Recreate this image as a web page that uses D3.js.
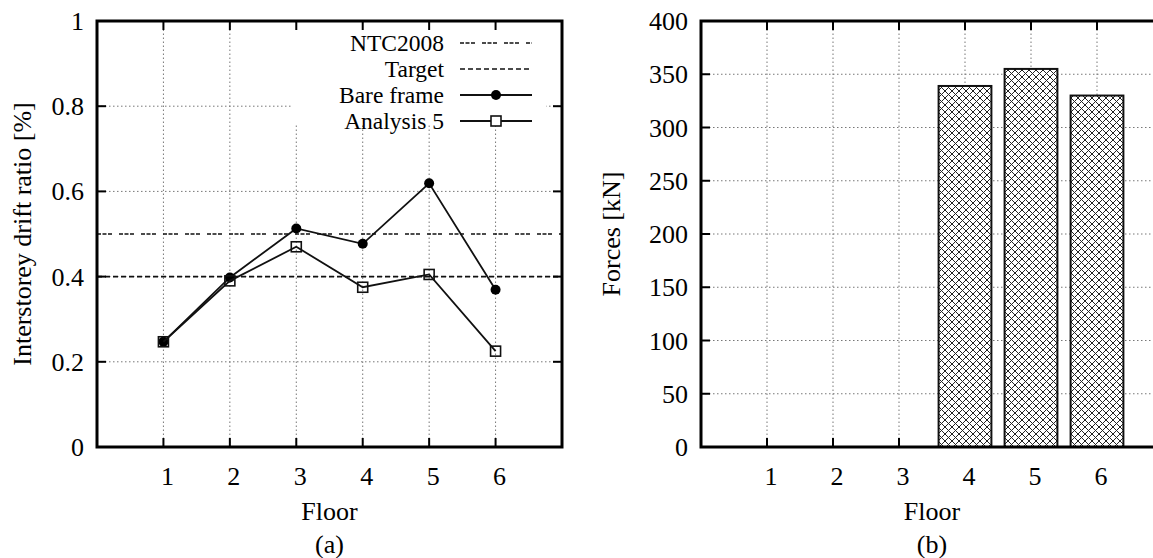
<!DOCTYPE html>
<html>
<head>
<meta charset="utf-8">
<script src="https://cdn.jsdelivr.net/npm/d3@7"></script>
<style>
  body { margin: 0; background: #fff; }
  svg { display: block; font-family: "Liberation Serif", "DejaVu Serif", serif; }
  text { fill: #000; }
</style>
</head>
<body>
<svg width="1153" height="558"></svg>
<script>
// data ........................................................................

var floors = [1, 2, 3, 4, 5, 6],
	bareFrame = [0.247, 0.398, 0.513, 0.477, 0.619, 0.369],
	analysis5 = [0.247, 0.390, 0.470, 0.375, 0.405, 0.225],
	ntc2008 = 0.5,
	target = 0.4,
	forces = [0, 0, 0, 339, 355, 330],
	driftTicks = [0, 0.2, 0.4, 0.6, 0.8, 1],
	forceTicks = [0, 50, 100, 150, 200, 250, 300, 350, 400];

var svg = d3.select("svg"),
	fontSize = 26,
	legendFont = 23.5,
	ntcDash = "4,1.5,4,1.5,4,7",
	targetDash = "5,3",
	gridStyle = function(sel) {
		sel.attr("stroke", "#777").attr("stroke-width", 1)
			.attr("stroke-dasharray", "1.5,2.5").attr("fill", "none");
	};

// crosshatch pattern for the bars
var pat = svg.append("defs").append("pattern")
	.attr("id", "xhatch")
	.attr("patternUnits", "userSpaceOnUse")
	.attr("width", 7).attr("height", 7);
pat.append("rect").attr("width", 7).attr("height", 7).attr("fill", "#fff");
pat.append("path")
	.attr("d", "M0,0L7,7M0,7L7,0M-1,1L1,-1M6,8L8,6M-1,6L1,8M6,-1L8,1")
	.attr("stroke", "#222").attr("stroke-width", 1);

// common frame ................................................................

function frame(g, x, y, yTicks, yLabel, yLabelX, caption) {
	var left = x.range()[0], right = x.range()[1],
		bottom = y.range()[0], top = y.range()[1];

	// y tick labels
	g.selectAll(".ylab").data(yTicks).enter().append("text")
		.attr("x", left - 13).attr("y", function(d) { return y(d) + 9; })
		.attr("text-anchor", "end").attr("font-size", fontSize)
		.text(function(d) { return d; });

	// x tick labels
	g.selectAll(".xlab").data(floors).enter().append("text")
		.attr("x", function(d) { return x(d) + 4; }).attr("y", 485)
		.attr("text-anchor", "middle").attr("font-size", fontSize)
		.text(function(d) { return d; });

	g.append("text")
		.attr("x", (left + right) / 2).attr("y", 520)
		.attr("text-anchor", "middle").attr("font-size", fontSize)
		.text("Floor");

	g.append("text")
		.attr("x", (left + right) / 2).attr("y", 553)
		.attr("text-anchor", "middle").attr("font-size", fontSize)
		.text(caption);

	g.append("text")
		.attr("transform", "translate(" + yLabelX + "," + ((top + bottom) / 2) + ") rotate(-90)")
		.attr("text-anchor", "middle").attr("font-size", fontSize)
		.text(yLabel);
}

function ticks(g, x, y, yTicks) {
	var left = x.range()[0], right = x.range()[1],
		bottom = y.range()[0], top = y.range()[1], len = 9,
		t = g.append("g").attr("stroke", "#000").attr("stroke-width", 2);

	floors.forEach(function(d) {
		t.append("line").attr("x1", x(d)).attr("x2", x(d))
			.attr("y1", bottom).attr("y2", bottom - len);
		t.append("line").attr("x1", x(d)).attr("x2", x(d))
			.attr("y1", top).attr("y2", top + len);
	});
	yTicks.forEach(function(d) {
		t.append("line").attr("x1", left).attr("x2", left + len)
			.attr("y1", y(d)).attr("y2", y(d));
		t.append("line").attr("x1", right).attr("x2", right - len)
			.attr("y1", y(d)).attr("y2", y(d));
	});
}

function border(g, x, y) {
	var left = x.range()[0], right = x.range()[1],
		bottom = y.range()[0], top = y.range()[1];
	g.append("rect")
		.attr("x", left).attr("y", top)
		.attr("width", right - left).attr("height", bottom - top)
		.attr("fill", "none").attr("stroke", "#000").attr("stroke-width", 3);
}

// (a) interstorey drift ........................................................

var xa = d3.scaleLinear().domain([0, 7]).range([97, 562]),
	ya = d3.scaleLinear().domain([0, 1]).range([447, 21]),
	ga = svg.append("g");

frame(ga, xa, ya, driftTicks, "Interstorey drift ratio [%]", 31, "(a)");

// grid
ga.append("g").selectAll("line").data(driftTicks.slice(1, -1)).enter().append("line")
	.attr("x1", xa(0)).attr("x2", xa(7))
	.attr("y1", ya).attr("y2", ya)
	.call(gridStyle);
ga.append("g").selectAll("line").data(floors).enter().append("line")
	.attr("x1", xa).attr("x2", xa)
	.attr("y1", ya(0)).attr("y2", ya(1))
	.call(gridStyle);

// reference levels
ga.append("line")
	.attr("x1", xa(0)).attr("x2", xa(7))
	.attr("y1", ya(ntc2008)).attr("y2", ya(ntc2008))
	.attr("stroke", "#111").attr("stroke-width", 1.6)
	.attr("stroke-dasharray", ntcDash);
ga.append("line")
	.attr("x1", xa(0)).attr("x2", xa(7))
	.attr("y1", ya(target)).attr("y2", ya(target))
	.attr("stroke", "#111").attr("stroke-width", 1.6)
	.attr("stroke-dasharray", targetDash);

// legend box hides the grid behind it
ga.append("rect")
	.attr("x", 292).attr("y", 23).attr("width", 254).attr("height", 102)
	.attr("fill", "#fff");

ticks(ga, xa, ya, driftTicks);

var line = d3.line()
	.x(function(d, i) { return xa(floors[i]); })
	.y(function(d) { return ya(d); });

ga.append("path").datum(bareFrame)
	.attr("d", line).attr("fill", "none")
	.attr("stroke", "#111").attr("stroke-width", 1.8);
ga.append("g").selectAll("circle").data(bareFrame).enter().append("circle")
	.attr("cx", function(d, i) { return xa(floors[i]); })
	.attr("cy", ya).attr("r", 5).attr("fill", "#000");

ga.append("path").datum(analysis5)
	.attr("d", line).attr("fill", "none")
	.attr("stroke", "#111").attr("stroke-width", 1.8);
ga.append("g").selectAll("rect").data(analysis5).enter().append("rect")
	.attr("x", function(d, i) { return xa(floors[i]) - 5; })
	.attr("y", function(d) { return ya(d) - 5; })
	.attr("width", 10).attr("height", 10)
	.attr("fill", "none").attr("stroke", "#111").attr("stroke-width", 1.6);

border(ga, xa, ya);

// legend
var legendRows = [
	{label: "NTC2008", dash: ntcDash, mark: null},
	{label: "Target", dash: targetDash, mark: null},
	{label: "Bare frame", dash: null, mark: "circle"},
	{label: "Analysis 5", dash: null, mark: "square"}
];
var lg = ga.append("g").selectAll("g").data(legendRows).enter().append("g")
	.attr("transform", function(d, i) { return "translate(0," + (43 + i * 26) + ")"; });
lg.append("text")
	.attr("x", 444).attr("y", 8).attr("text-anchor", "end")
	.attr("font-size", legendFont)
	.text(function(d) { return d.label; });
lg.append("line")
	.attr("x1", 460).attr("x2", 532).attr("y1", 0).attr("y2", 0)
	.attr("stroke", "#111")
	.attr("stroke-width", function(d) { return d.dash ? 1.6 : 1.8; })
	.attr("stroke-dasharray", function(d) { return d.dash; });
lg.filter(function(d) { return d.mark == "circle"; }).append("circle")
	.attr("cx", 496).attr("cy", 0).attr("r", 5).attr("fill", "#000");
lg.filter(function(d) { return d.mark == "square"; }).append("rect")
	.attr("x", 491).attr("y", -5).attr("width", 10).attr("height", 10)
	.attr("fill", "#fff").attr("stroke", "#111").attr("stroke-width", 1.6);

// (b) forces ...................................................................

var xb = d3.scaleLinear().domain([0, 7]).range([701, 1163]),
	yb = d3.scaleLinear().domain([0, 400]).range([447, 21]),
	gb = svg.append("g");

frame(gb, xb, yb, forceTicks, "Forces [kN]", 620, "(b)");

gb.append("g").selectAll("line").data(forceTicks.slice(1, -1)).enter().append("line")
	.attr("x1", xb(0)).attr("x2", xb(7))
	.attr("y1", yb).attr("y2", yb)
	.call(gridStyle);
gb.append("g").selectAll("line").data(floors).enter().append("line")
	.attr("x1", xb).attr("x2", xb)
	.attr("y1", yb(0)).attr("y2", yb(400))
	.call(gridStyle);

ticks(gb, xb, yb, forceTicks);

var barW = 0.8;
gb.append("g").selectAll("rect").data(forces.filter(function(d) { return d > 0; }))
	.enter().append("rect")
	.attr("x", function(d) { return xb(floors[forces.indexOf(d)] - barW / 2); })
	.attr("y", yb)
	.attr("width", xb(barW) - xb(0))
	.attr("height", function(d) { return yb(0) - yb(d); })
	.attr("fill", "url(#xhatch)")
	.attr("stroke", "#111").attr("stroke-width", 2);

border(gb, xb, yb);
</script>
</body>
</html>
